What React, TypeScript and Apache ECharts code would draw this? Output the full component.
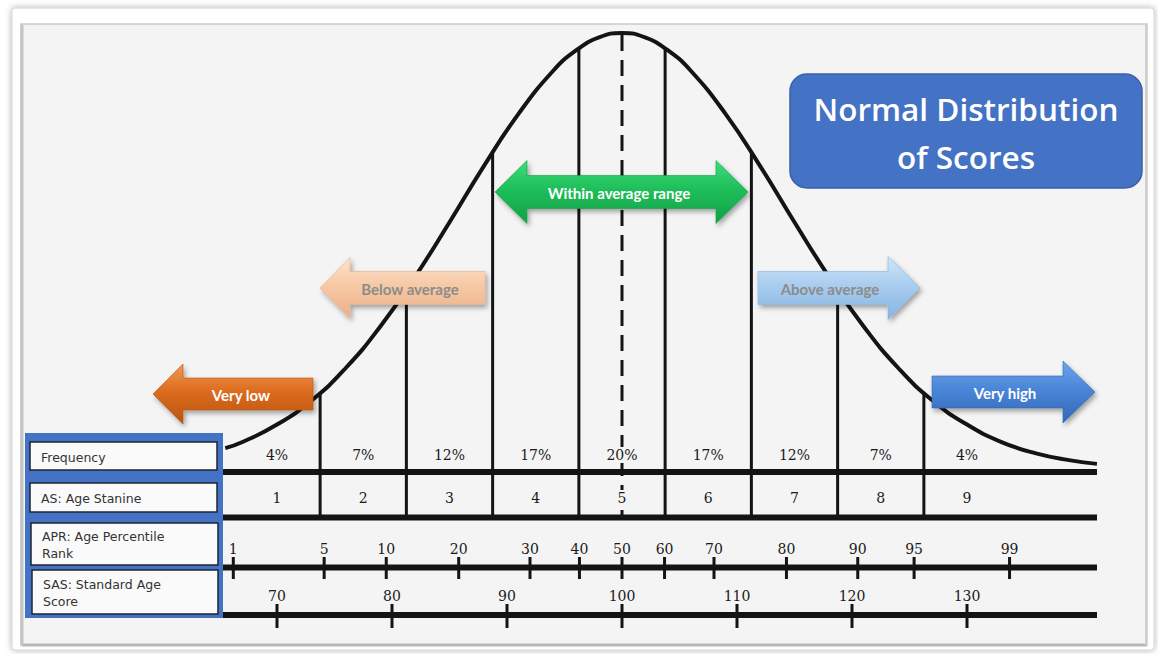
import React, { useEffect, useRef } from "react";
import * as echarts from "echarts";

// ---------- data ----------
const stanines = ["1", "2", "3", "4", "5", "6", "7", "8", "9"];
const frequencies = ["4%", "7%", "12%", "17%", "20%", "17%", "12%", "7%", "4%"];
// SAS value under the centre of each stanine column
const stanineCenters = [70, 77.5, 85, 92.5, 100, 107.5, 115, 122.5, 130];
// SAS value of each stanine boundary line and the curve height (0..1 of peak) where it meets the curve
const stanineBounds = [73.75, 81.25, 88.75, 96.25, 103.75, 111.25, 118.75, 126.25];
const boundHeights = [0.176, 0.412, 0.727, 0.965, 0.965, 0.727, 0.412, 0.176];
// Age percentile ranks and the SAS position where each is marked
const aprLabels = ["1", "5", "10", "20", "30", "40", "50", "60", "70", "80", "90", "95", "99"];
const aprPositions = [66.2, 74.1, 79.5, 85.8, 92.0, 96.3, 100, 103.7, 108, 114.3, 120.5, 125.4, 133.7];
// Standard age score ticks
const sasTicks = [70, 80, 90, 100, 110, 120, 130];
// The bell curve: SAS value and relative height (1 = peak)
const curveScores = [65.5, 67, 70, 73, 76, 79, 82, 85, 88, 91, 94, 96, 98, 100, 102, 104, 106, 109, 112, 115, 118, 121, 124, 127, 130, 133, 136, 139, 141.3];
const curveHeights = [0.05, 0.064, 0.104, 0.159, 0.234, 0.329, 0.442, 0.567, 0.696, 0.815, 0.913, 0.96, 0.99, 1, 0.99, 0.96, 0.913, 0.815, 0.696, 0.567, 0.442, 0.329, 0.234, 0.159, 0.104, 0.064, 0.038, 0.022, 0.014];
const rowNames = ["Frequency", "AS: Age Stanine", "APR: Age Percentile\nRank", "SAS: Standard Age\nScore"];
const bandLabels = ["Very low", "Below average", "Within average range", "Above average", "Very high"];

// ---------- layout ----------
const TABLE_L = 222;
const TABLE_R = 1097;
const LINE_FREQ = 472;
const LINE_STAN = 517.5;
const LINE_APR = 567.5;
const LINE_SAS = 615;
const Y_FREQ = 455;
const Y_STAN = 498;
const Y_APR = 549;
const Y_SAS = 596;
const NUM_FONT = '14px "DejaVu Serif"';
const INK = "#141414";
const PANEL = "#f4f4f4";

function arrowShape(dir: "left" | "right" | "both", x0: number, x1: number, cy: number, shaftH: number, headH: number, headL: number) {
  const st = cy - shaftH / 2, sb = cy + shaftH / 2, ht = cy - headH / 2, hb = cy + headH / 2;
  if (dir === "left")
    return [[x0, cy], [x0 + headL, ht], [x0 + headL, st], [x1, st], [x1, sb], [x0 + headL, sb], [x0 + headL, hb]];
  if (dir === "right")
    return [[x0, st], [x1 - headL, st], [x1 - headL, ht], [x1, cy], [x1 - headL, hb], [x1 - headL, sb], [x0, sb]];
  return [[x0, cy], [x0 + headL, ht], [x0 + headL, st], [x1 - headL, st], [x1 - headL, ht], [x1, cy], [x1 - headL, hb], [x1 - headL, sb], [x0 + headL, sb], [x0 + headL, hb]];
}

function grad(c: string[]) {
  return new echarts.graphic.LinearGradient(0, 0, 0, 1, [
    { offset: 0, color: c[0] },
    { offset: 0.45, color: c[1] },
    { offset: 1, color: c[2] },
  ]);
}

function arrow(dir: any, x0: number, x1: number, cy: number, shaftH: number, headH: number, headL: number, colors: string[], label: string, textColor: string, tx: number) {
  return [
    {
      type: "polygon",
      z: 20,
      shape: { points: arrowShape(dir, x0, x1, cy, shaftH, headH, headL) },
      style: {
        fill: grad(colors),
        stroke: colors[2],
        lineWidth: 0.6,
        shadowBlur: 5,
        shadowOffsetX: 2,
        shadowOffsetY: 3,
        shadowColor: "rgba(0,0,0,0.35)",
      },
    },
    {
      type: "text",
      z: 21,
      x: tx,
      y: cy + 1,
      style: {
        text: label,
        fill: textColor,
        font: 'bold 15px Lato',
        align: "center",
        verticalAlign: "middle",
        textAlign: "center",
        textVerticalAlign: "middle",
      },
    },
  ];
}

function buildOption() {
  const graphics: any[] = [];
  // card & inner panel
  graphics.push({
    type: "rect", z: 0,
    shape: { x: 12, y: 8, width: 1142, height: 642, r: 3 },
    style: { fill: "#ffffff", stroke: "#d4d4d4", lineWidth: 1, shadowBlur: 6, shadowColor: "rgba(0,0,0,0.3)" },
  });
  graphics.push({
    type: "rect", z: 0,
    shape: { x: 21, y: 24, width: 1126, height: 621 },
    style: { fill: PANEL, stroke: "#c9c9c9", lineWidth: 1.5 },
  });
  graphics.push({ type: "line", z: 0, shape: { x1: 22, y1: 645, x2: 1147, y2: 645 }, style: { stroke: "#b8b8b8", lineWidth: 3 } });
  graphics.push({ type: "line", z: 0, shape: { x1: 22, y1: 25, x2: 22, y2: 645 }, style: { stroke: "#c4c4c4", lineWidth: 3 } });
  graphics.push({ type: "line", z: 0, shape: { x1: 1146, y1: 25, x2: 1146, y2: 645 }, style: { stroke: "#cfcfcf", lineWidth: 2 } });

  // table horizontal rules
  [LINE_FREQ, LINE_STAN, LINE_APR, LINE_SAS].forEach((y) => {
    graphics.push({
      type: "rect", z: 5,
      shape: { x: TABLE_L, y: y - 3, width: TABLE_R - TABLE_L, height: 6 },
      style: { fill: INK },
    });
  });

  // left label panel
  graphics.push({
    type: "rect", z: 8,
    shape: { x: 25, y: 433, width: 198, height: 185 },
    style: { fill: "#4472c4" },
  });
  const boxes = [
    [30, 442, 187, 28],
    [30, 483, 187, 29],
    [31, 523, 187, 42],
    [32, 570, 186, 44],
  ];
  boxes.forEach((b, i) => {
    graphics.push({
      type: "rect", z: 9,
      shape: { x: b[0], y: b[1], width: b[2], height: b[3] },
      style: { fill: "#fafafa", stroke: "#1d2433", lineWidth: 1.5 },
    });
    graphics.push({
      type: "text", z: 10,
      x: b[0] + 11, y: b[1] + b[3] / 2 + 1,
      style: {
        text: rowNames[i],
        fill: "#333333",
        font: '12.5px "DejaVu Sans"',
        lineHeight: 17,
        align: "left",
        verticalAlign: "middle",
        textAlign: "left",
        textVerticalAlign: "middle",
      },
    });
  });

  // arrows
  graphics.push(...arrow("left", 153, 313, 394, 32, 60, 30, ["#f29a52", "#dc6c1f", "#b9540f"], bandLabels[0], "#ffffff", 241));
  graphics.push(...arrow("left", 320, 485, 288, 33, 61, 30, ["#fde4d0", "#f7c9a5", "#e9b089"], bandLabels[1], "#8c8c8c", 410));
  graphics.push(...arrow("both", 495, 748, 192, 33, 63, 32, ["#3fdc7c", "#1fbf5a", "#13a047"], bandLabels[2], "#ffffff", 619));
  graphics.push(...arrow("right", 758, 920, 288, 33, 63, 32, ["#d2e6f8", "#a9cdef", "#86b4e2"], bandLabels[3], "#8c8c8c", 830));
  graphics.push(...arrow("right", 932, 1095, 392, 32, 62, 32, ["#6ea5ea", "#4a86d8", "#3367b6"], bandLabels[4], "#ffffff", 1005));

  // title box
  graphics.push({
    type: "rect", z: 20,
    shape: { x: 790, y: 74, width: 352, height: 114, r: 17 },
    style: { fill: "#4472c4", stroke: "#3a60a6", lineWidth: 1.5 },
  });
  graphics.push({
    type: "text", z: 21, x: 966, y: 132,
    style: {
      text: "Normal Distribution\nof Scores",
      fill: "#ffffff",
      font: '600 31.5px "Open Sans"',
      lineHeight: 48,
      align: "center",
      verticalAlign: "middle",
      textAlign: "center",
      textVerticalAlign: "middle",
    },
  });

  const textEl = (x: number, y: number, t: string) => ({
    type: "text",
    x, y,
    z2: 5,
    style: {
      text: t, fill: "#1a1a1a", font: NUM_FONT,
      backgroundColor: PANEL, padding: [1, 2],
      align: "center", verticalAlign: "middle", textAlign: "center", textVerticalAlign: "middle",
    },
  });

  return {
    animation: false,
    backgroundColor: "#ffffff",
    grid: { left: 162, right: 18.5, top: 33, bottom: 184 },
    xAxis: { type: "value", min: 60, max: 145, show: false },
    yAxis: { type: "value", min: 0, max: 1, show: false },
    graphic: { elements: graphics },
    series: [
      {
        type: "line",
        z: 6,
        clip: false,
        smooth: 0.5,
        symbol: "none",
        data: curveScores.map((s, i) => [s, curveHeights[i]]),
        lineStyle: { color: INK, width: 4 },
      },
      {
        type: "custom",
        z: 6,
        data: stanineBounds.map((b, i) => [b, boundHeights[i]]),
        renderItem: (p: any, api: any) => {
          const pt = api.coord([api.value(0), api.value(1)]);
          return { type: "line", shape: { x1: pt[0], y1: pt[1], x2: pt[0], y2: LINE_STAN }, style: { stroke: INK, lineWidth: 3 } };
        },
      },
      {
        type: "custom",
        z: 6,
        data: [[100, 1]],
        renderItem: (p: any, api: any) => {
          const pt = api.coord([api.value(0), api.value(1)]);
          return { type: "line", shape: { x1: pt[0], y1: pt[1] + 2, x2: pt[0], y2: LINE_STAN }, style: { stroke: INK, lineWidth: 3, lineDash: [16, 9] } };
        },
      },
      {
        type: "custom",
        z: 7,
        data: stanineCenters.map((c) => [c, 0]),
        renderItem: (p: any, api: any) => {
          const x = api.coord([api.value(0), 0])[0];
          return {
            type: "group",
            children: [textEl(x, Y_FREQ, frequencies[p.dataIndex]), textEl(x, Y_STAN, stanines[p.dataIndex])],
          };
        },
      },
      {
        type: "custom",
        z: 7,
        data: aprPositions.map((c) => [c, 0]),
        renderItem: (p: any, api: any) => {
          const x = api.coord([api.value(0), 0])[0];
          return {
            type: "group",
            children: [
              { type: "line", shape: { x1: x, y1: 557, x2: x, y2: 579 }, style: { stroke: INK, lineWidth: 3 } },
              textEl(x, Y_APR, aprLabels[p.dataIndex]),
            ],
          };
        },
      },
      {
        type: "custom",
        z: 7,
        data: sasTicks.map((c) => [c, 0]),
        renderItem: (p: any, api: any) => {
          const x = api.coord([api.value(0), 0])[0];
          return {
            type: "group",
            children: [
              { type: "line", shape: { x1: x, y1: 604, x2: x, y2: 628 }, style: { stroke: INK, lineWidth: 3 } },
              textEl(x, Y_SAS, String(sasTicks[p.dataIndex])),
            ],
          };
        },
      },
    ],
  };
}

export default function App() {
  const ref = useRef<HTMLDivElement>(null);
  useEffect(() => {
    if (!ref.current) return;
    const chart = echarts.init(ref.current, null, { renderer: "svg" });
    chart.setOption(buildOption() as any);
    return () => chart.dispose();
  }, []);
  return <div ref={ref} style={{ position: "fixed", left: 0, top: 0, width: 1158, height: 654 }} />;
}
